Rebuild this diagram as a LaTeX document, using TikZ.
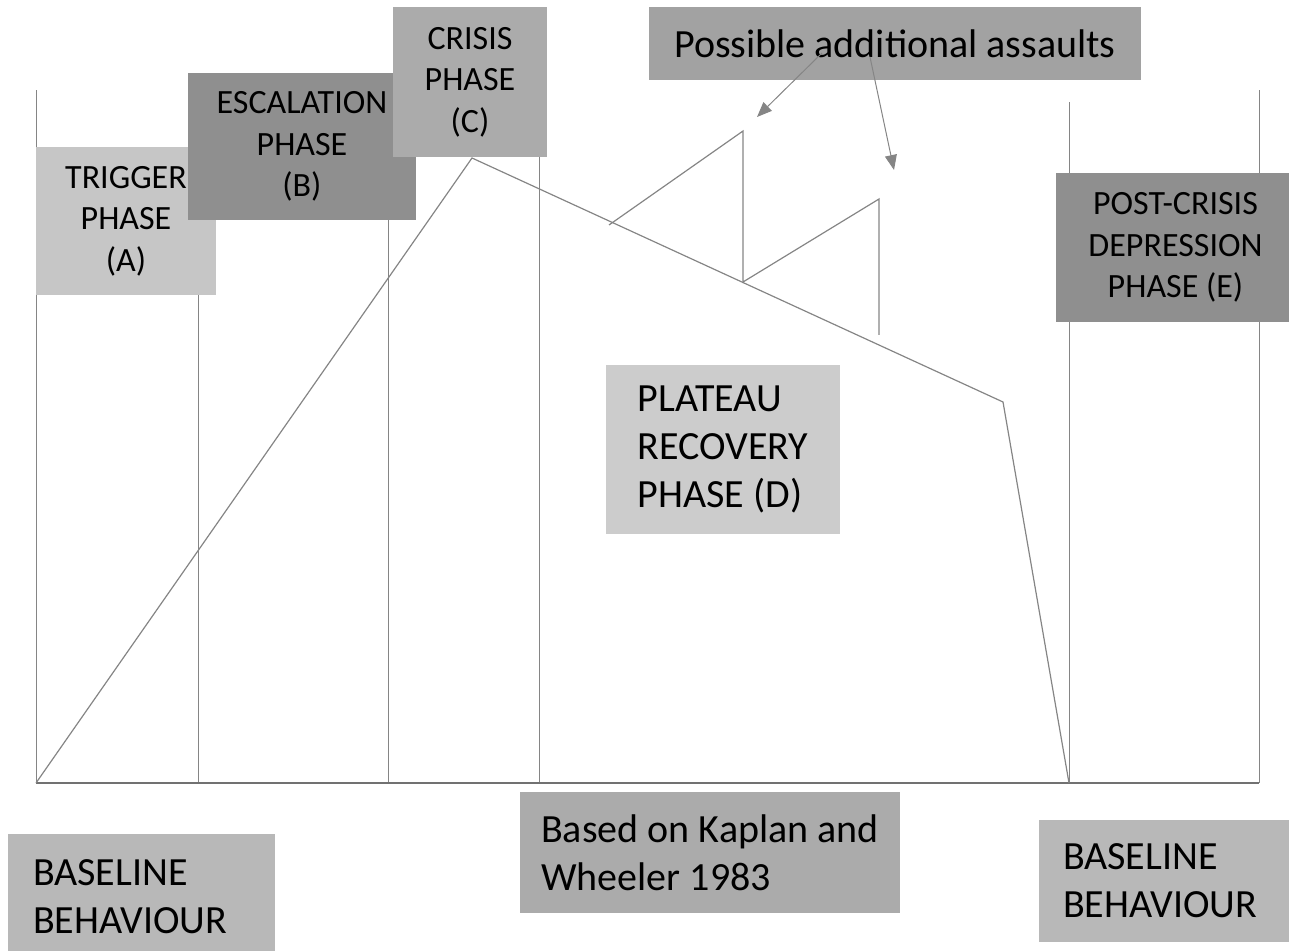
\documentclass[tikz,border=0pt]{standalone}
\usepackage{fontspec}
\setmainfont{Carlito}
\usetikzlibrary{arrows.meta,backgrounds}

\definecolor{lightbox}{HTML}{C6C6C6}
\definecolor{midbox}{HTML}{ABABAB}
\definecolor{darkbox}{HTML}{8F8F8F}
\definecolor{linegray}{HTML}{858585}

\tikzset{
  phase/.style={inner sep=0pt, align=center, text=black,
    font=\fontsize{17pt}{20.75pt}\selectfont},
  note/.style={inner sep=0pt, align=left, text=black,
    font=\fontsize{20pt}{24pt}\selectfont},
  curve/.style={draw=linegray, line width=0.6pt},
  grid/.style={draw=linegray, line width=0.5pt},
  arr/.style={draw=linegray, line width=0.5pt,
    -{Triangle[length=7.5pt,width=6pt]}}
}

\begin{document}
\begin{tikzpicture}[x=0.5pt,y=-0.5pt]
\useasboundingbox (0,0) rectangle (1289,951);

\node[phase, fill=lightbox, minimum width=90pt, minimum height=74pt] (trig) at (126,221) {TRIGGER\\PHASE\\(A)};
\node[phase, fill=darkbox, minimum width=114pt, minimum height=73.5pt] (esc) at (302,146.5) {ESCALATION\\PHASE\\(B)};
\node[phase, fill=midbox, minimum width=77pt, minimum height=75pt] (cris) at (470,82) {CRISIS\\PHASE\\(C)};
\node[note, align=center, fill=midbox!95!black, minimum width=246pt, minimum height=36.5pt] (poss) at (895,43.5) {Possible additional assaults};
\node[phase, fill=darkbox, minimum width=119.5pt, minimum height=74.5pt] (post) at (1175.5,247.5) {POST-CRISIS\\DEPRESSION\\PHASE (E)};
\node[note, fill=lightbox!90!white, minimum width=117pt, minimum height=84.5pt] (plat) at (723,449.5) {PLATEAU\\RECOVERY\\PHASE (D)};
\node[note, fill=midbox, minimum width=190pt, minimum height=60.5pt] (kap) at (710,852.5) {Based on Kaplan and\\Wheeler 1983};
\node[note, fill=midbox!85!white, inner xsep=12.5pt, text width=108.5pt, minimum height=63pt] (baseL) at (141.5,897) {BASELINE\\BEHAVIOUR};
\node[note, fill=midbox!85!white, inner xsep=12pt, text width=104pt, minimum height=61pt] (baseR) at (1167,881) {BASELINE\\BEHAVIOUR};

% points on the axis
\coordinate (a0) at (36,783);
\coordinate (a1) at (198,783);
\coordinate (a2) at (388,783);
\coordinate (a3) at (539,783);
\coordinate (a4) at (1069,783);
\coordinate (a5) at (1259,783);
\coordinate (top0) at (36,90);
\coordinate (top4) at (1069,102);
\coordinate (top5) at (1259,90);

% the curve
\coordinate (peak) at (472,158);
\coordinate (knee) at (1003,402);
\coordinate (s0) at (609,225);
\coordinate (s1) at (743,131);
\coordinate (s2) at (743,282);
\coordinate (s3) at (879,199);
\coordinate (s4) at (879,335);

\begin{pgfonlayer}{background}
\draw[grid] (a0) -- (top0);
\draw[grid] (a1) -- (a1 |- trig.south);
\draw[grid] (a2) -- (a2 |- esc.south);
\draw[grid] (a3) -- (a3 |- cris.south);
\draw[grid] (a4) -- (top4);
\draw[grid] (a5) -- (top5);
\draw[draw=linegray!85!black, line width=0.9pt] (a0) -- (a5);
\draw[curve] (a0) -- (peak) -- (knee) -- (a4);
\draw[curve] (s0) -- (s1) -- (s2) -- (s3) -- (s4);
\end{pgfonlayer}

\coordinate (p1) at (822,53);
\coordinate (t1) at (757,117);
\coordinate (p2) at (870,57);
\coordinate (t2) at (894,170);
\draw[arr] (p1) -- (t1);
\draw[arr] (p2) -- (t2);
\end{tikzpicture}
\end{document}
